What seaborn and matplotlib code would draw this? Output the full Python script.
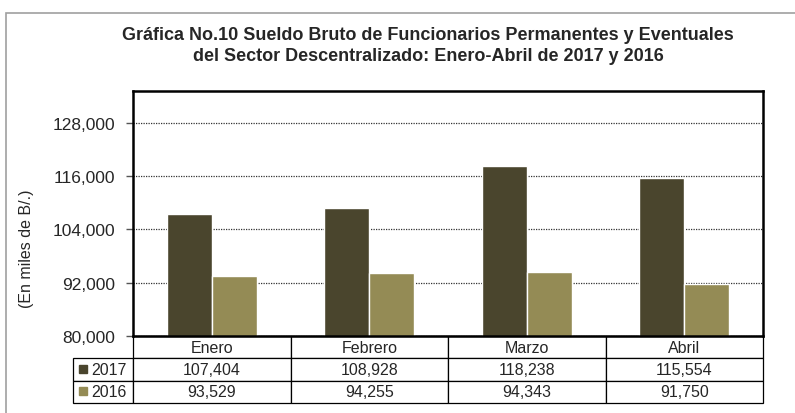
import numpy as np
import pandas as pd
import matplotlib
matplotlib.use("Agg")
import matplotlib.pyplot as plt
import seaborn as sns

# data
months = ["Enero", "Febrero", "Marzo", "Abril"]
years = ["2017", "2016"]
values_2017 = [107404, 108928, 118238, 115554]
values_2016 = [93529, 94255, 94343, 91750]
colors = ["#4a452d", "#948b55"]
yticks = [80000, 92000, 104000, 116000, 128000]

title = ("Gráfica No.10 Sueldo Bruto de Funcionarios Permanentes y Eventuales\n"
         "del Sector Descentralizado: Enero-Abril de 2017 y 2016")

df = pd.DataFrame({
    "mes": months * 2,
    "anio": [years[0]] * 4 + [years[1]] * 4,
    "valor": values_2017 + values_2016,
})

sns.set_style("white")
plt.rcParams["font.family"] = ["Liberation Sans", "DejaVu Sans"]

W, H = 795, 414
fig = plt.figure(figsize=(W / 100, H / 100), dpi=100)

# outer chart border (only top/left visible in the original)
fig.patches.append(plt.Rectangle((6 / W, -0.1), 1.2, 1 - 14 / H + 0.1,
                                 transform=fig.transFigure, fill=False,
                                 edgecolor="#a0a0a0", linewidth=1.2))

ax = fig.add_axes([133 / W, 1 - 337 / H, 630 / W, 245 / H])
sns.barplot(data=df, x="mes", y="valor", hue="anio", hue_order=years,
            palette=colors, width=0.57, saturation=1, ax=ax, legend=False)

ax.set_yticks(yticks)
ax.set_yticklabels([f"{v:,}" for v in yticks], fontsize=12.5)
ax.yaxis.grid(True, linestyle=(0, (1, 1)), color="#333333", linewidth=0.9)
ax.set_axisbelow(True)
ax.tick_params(axis="y", length=5, width=1, left=True, color="#555555", pad=8)
ax.set_xticks([])
ax.set_xlabel("")
ax.set_ylabel("")
for s in ax.spines.values():
    s.set_linewidth(1.8)
    s.set_color("black")

fig.text(26 / W, 1 - 249 / H, "(En miles de B/.)", rotation=90,
         ha="center", va="center", fontsize=11.5)
fig.text(428 / W, 1 - 46 / H, title, ha="center", va="center",
         fontsize=13, fontweight="bold", linespacing=1.3)

# data table below the axes (first column holds the series names)
cell_text = [[""] + months,
             [years[0]] + [f"{v:,}" for v in values_2017],
             [years[1]] + [f"{v:,}" for v in values_2016]]
tab = ax.table(cellText=cell_text, cellLoc="center",
               bbox=[-60 / 630, -67 / 245, 690 / 630, 67 / 245])
tab.auto_set_font_size(False)
tab.set_fontsize(11.5)
for (r, c), cell in tab.get_celld().items():
    cell.set_linewidth(0.9)
    cell.set_edgecolor("black")
    cell.set_width(60 / 690 if c == 0 else 157.5 / 690)
    if c == 0:
        cell.get_text().set_ha("right")
        cell._loc = "right"
        if r == 0:
            cell.visible_edges = ""

# legend keys in the row labels
for i, col in enumerate(colors):
    ax.plot([-50 / 630], [(-33 - 21.5 * i) / 245], marker="s", markersize=5.5,
            color=col, transform=ax.transAxes, clip_on=False, linestyle="none")

ax.set_xlim(-0.5, len(months) - 0.5)
ax.set_ylim(80000, 135200)

fig.savefig("out.png", dpi=100)
